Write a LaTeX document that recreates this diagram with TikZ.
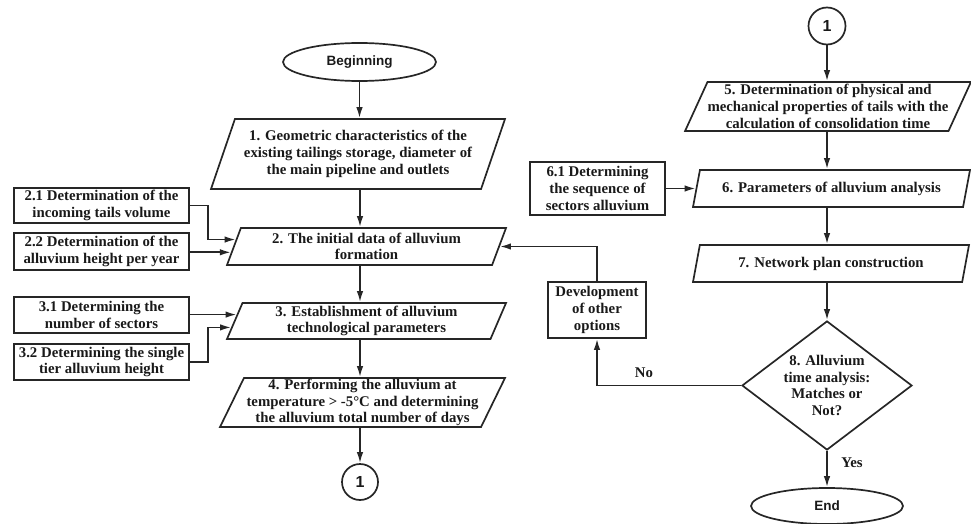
\documentclass[tikz,border=0pt]{standalone}
\usepackage{fontspec}
\setmainfont{Liberation Serif}
\newfontfamily\arialf{Liberation Sans}
\usetikzlibrary{shapes.geometric,arrows.meta,calc}
\begin{document}
\begin{tikzpicture}[x=1pt,y=-1pt,
  every node/.style={font=\fontsize{14.8}{16.7}\selectfont\bfseries, align=center, inner sep=0pt, text=black!90},
  pbox/.style={draw=black!85, trapezium, trapezium left angle=63, trapezium right angle=117, trapezium stretches body, line width=1.7pt},
  rbox/.style={draw=black!85, rectangle, line width=1.7pt},
  term/.style={draw=black!85, ellipse, line width=1.7pt, font=\fontsize{13.5}{16}\selectfont\arialf\bfseries},
  conn/.style={draw=black!85, circle, line width=1.7pt, font=\fontsize{16}{16}\selectfont\arialf\bfseries},
  arr/.style={draw=black!85, line width=1.7pt, -{Latex[length=11pt,width=6.5pt]}},
  lbl/.style={font=\fontsize{14.8}{16.7}\selectfont\bfseries}
]
\useasboundingbox (0,0) rectangle (971,524);

% left column
\node[term, minimum width=153pt, minimum height=38pt] (begin) at (359.5,62) {Beginning};
\node[pbox, minimum width=294pt, minimum height=70pt] (b1) at (358,154) {1. Geometric characteristics of the\\existing tailings storage, diameter of\\the main pipeline and outlets};
\node[pbox, minimum width=279pt, minimum height=37pt] (b2) at (366.5,246.5) {2. The initial data of alluvium\\formation};
\node[pbox, minimum width=279pt, minimum height=36pt] (b3) at (366.5,321) {3. Establishment of alluvium\\technological parameters};
\node[pbox, minimum width=285pt, minimum height=49pt] (b4) at (362.5,402.5) {4. Performing the alluvium at\\temperature > -5°C and determining\\the alluvium total number of days};
\node[conn, minimum size=36pt] (c1) at (360,482) {1};

\node[rbox, minimum width=175pt, minimum height=35pt] (l21) at (101.5,205.5) {2.1 Determination of the\\incoming tails volume};
\node[rbox, minimum width=175pt, minimum height=37pt] (l22) at (101.5,251.5) {2.2 Determination of the\\alluvium height per year};
\node[rbox, minimum width=175pt, minimum height=36pt] (l31) at (101.5,315) {3.1 Determining the\\number of sectors};
\node[rbox, minimum width=175pt, minimum height=36pt] (l32) at (101.5,362) {3.2 Determining the single\\tier alluvium height};

% right column
\node[conn, minimum size=37pt] (c2) at (827,26) {1};
\node[pbox, minimum width=282pt, minimum height=49pt] (b5) at (828,106.5) {5. Determination of physical and\\mechanical properties of tails with the\\calculation of consolidation time};
\node[pbox, minimum width=277pt, minimum height=37pt] (b6) at (831.5,188.5) {6. Parameters of alluvium analysis};
\node[pbox, minimum width=276pt, minimum height=37pt] (b7) at (831,263.5) {7. Network plan construction};
\node[draw=black!85, diamond, line width=1.7pt, minimum width=170pt, minimum height=129pt, inner sep=-8pt] (d8) at (827,385.5) {8. Alluvium\\time analysis:\\Matches or\\Not?};
\node[term, minimum width=152pt, minimum height=36pt] (end) at (827,506) {End};
\node[rbox, minimum width=98pt, minimum height=56pt] (dev) at (597,310) {Development\\of other\\options};
\node[rbox, minimum width=135pt, minimum height=53pt] (l61) at (597.5,188.5) {6.1 Determining\\the sequence of\\sectors alluvium};

\node[lbl] (no) at (644,373) {No};
\node[lbl] (yes) at (852,463) {Yes};

% main flow
\draw[arr] (begin.south) -- (begin.south |- b1.north);
\draw[arr] (c1 |- b1.south) -- (c1 |- b2.north);
\draw[arr] (c1 |- b2.south) -- (c1 |- b3.north);
\draw[arr] (c1 |- b3.south) -- (c1 |- b4.north);
\draw[arr] (c1 |- b4.south) -- (c1.north);

\draw[arr] (c2.south) -- (c2 |- b5.north);
\draw[arr] (c2 |- b5.south) -- (c2 |- b6.north);
\draw[arr] (c2 |- b6.south) -- (c2 |- b7.north);
\draw[arr] (c2 |- b7.south) -- (d8.north);
\draw[arr] (d8.south) -- (end.north);

% feeders
\coordinate (p21) at ($(b2.bottom left corner)!0.68!(b2.top left corner)$);
\coordinate (p22) at ($(b2.bottom left corner)!0.35!(b2.top left corner)$);
\coordinate (p31) at ($(b3.bottom left corner)!0.67!(b3.top left corner)$);
\coordinate (p32) at ($(b3.bottom left corner)!0.33!(b3.top left corner)$);
\coordinate (p6) at ($(b6.bottom left corner)!0.5!(b6.top left corner)$);
\coordinate (p2r) at ($(b2.bottom right corner)!0.5!(b2.top right corner)$);

\draw[arr] (l21.east) -- ++(18,0) |- (p21);
\draw[arr] (l22.east |- p22) -- (p22);
\draw[arr] (l31.east |- p31) -- (p31);
\draw[arr] (l32.east) -- ++(18,0) |- (p32);
\draw[arr] (l61.east |- p6) -- (p6);

% loop back
\draw[arr] (d8.west) -| (dev.south);
\draw[arr] (dev.north) |- (p2r);
\end{tikzpicture}
\end{document}
